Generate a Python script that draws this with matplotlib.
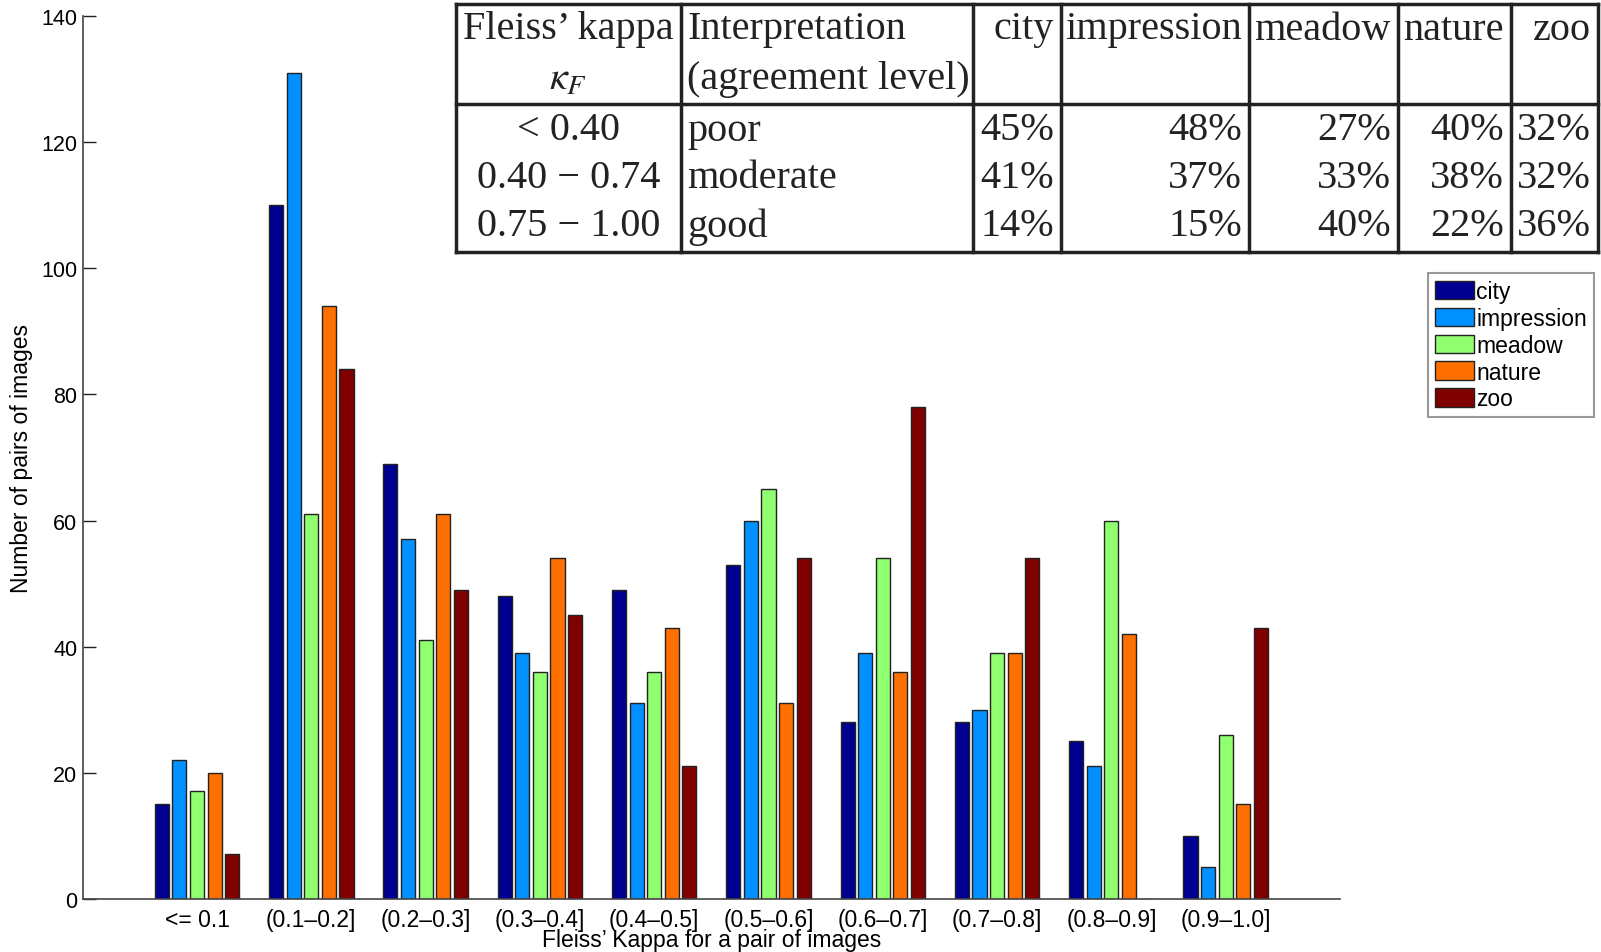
import matplotlib.pyplot as plt
import numpy as np
from matplotlib.lines import Line2D
from matplotlib.patches import Rectangle

bins = ['<= 0.1', '(0.1\u20130.2]', '(0.2\u20130.3]', '(0.3\u20130.4]', '(0.4\u20130.5]',
        '(0.5\u20130.6]', '(0.6\u20130.7]', '(0.7\u20130.8]', '(0.8\u20130.9]', '(0.9\u20131.0]']
series = ['city', 'impression', 'meadow', 'nature', 'zoo']
city = [15, 110, 69, 48, 49, 53, 28, 28, 25, 10]
impression = [22, 131, 57, 39, 31, 60, 39, 30, 21, 5]
meadow = [17, 61, 41, 36, 36, 65, 54, 39, 60, 26]
nature = [20, 94, 61, 54, 43, 31, 36, 39, 42, 15]
zoo = [7, 84, 49, 45, 21, 54, 78, 54, 0, 43]
colors = ['#000090', '#0090ff', '#90ff70', '#ff7000', '#800000']

# overlay table
tab_header1 = ["Fleiss\u2019 kappa", 'Interpretation', 'city', 'impression', 'meadow', 'nature', 'zoo']
tab_header2 = [r'$\kappa_F$', '(agreement level)', '', '', '', '', '']
tab_ranges = ['< 0.40', '0.40 \u2212 0.74', '0.75 \u2212 1.00']
tab_levels = ['poor', 'moderate', 'good']
tab_pct = {
    'city': ['45%', '41%', '14%'],
    'impression': ['48%', '37%', '15%'],
    'meadow': ['27%', '33%', '40%'],
    'nature': ['40%', '38%', '22%'],
    'zoo': ['32%', '32%', '36%'],
}

W, H = 1601, 953
plt.rcParams['mathtext.fontset'] = 'stix'
fig = plt.figure(figsize=(W / 100, H / 100), dpi=100)
ax = fig.add_axes([82.7 / W, 1 - 899.6 / H, (1340 - 82.7) / W, (899.6 - 17.4) / H])

x = np.arange(1, len(bins) + 1)
step = 0.154
width = 0.123
data = [city, impression, meadow, nature, zoo]
for i, (name, vals) in enumerate(zip(series, data)):
    ax.bar(x + (i - 2) * step, vals, width, color=colors[i], edgecolor='#222222',
           linewidth=1.0, label=name)

ax.set_xlim(0, 11)
ax.set_ylim(0, 140)
ax.set_yticks(np.arange(0, 141, 20))
ax.set_xticks(x)
ax.set_xticklabels(bins, fontsize=16.5, family='Liberation Sans')
for lab in ax.get_yticklabels():
    lab.set_fontsize(15.5)
    lab.set_family('Liberation Sans')
ax.tick_params(axis='y', direction='in', length=9, width=1, pad=4, colors='#222222',
               labelcolor='black')
ax.tick_params(axis='x', length=0, pad=6.5)
ax.spines['top'].set_visible(False)
ax.spines['right'].set_visible(False)
for s in ['left', 'bottom']:
    ax.spines[s].set_color('#444444')
    ax.spines[s].set_linewidth(1.2)
ax.set_xlabel('Fleiss\u2019 Kappa for a pair of images', fontsize=16.5,
              family='Liberation Sans', labelpad=-2)
ax.set_ylabel('Number of pairs of images', fontsize=16.5, family='Liberation Sans',
              labelpad=6)

leg = fig.legend(loc='upper left', bbox_to_anchor=(1428 / W, 1 - 274 / H),
                 prop={'family': 'Liberation Sans', 'size': 16.5},
                 handlelength=1.7, handleheight=0.85, handletextpad=0.1,
                 labelspacing=0.17, borderpad=0.3, borderaxespad=0,
                 fancybox=False, edgecolor='#999999', framealpha=1)
leg.get_frame().set_linewidth(1.5)


def fx(px):
    return px / W


def fy(py):
    return 1 - py / H


# table grid
cols = [456, 681, 973, 1061, 1249, 1398, 1511, 1598]
rows = [5, 105, 253]
fig.add_artist(Rectangle((fx(cols[0]), fy(rows[-1])), fx(cols[-1]) - fx(cols[0]),
                         fy(rows[0]) - fy(rows[-1]), transform=fig.transFigure,
                         facecolor='white', edgecolor='none', zorder=1))
for r in rows:
    fig.add_artist(Line2D([fx(cols[0]), fx(cols[-1])], [fy(r), fy(r)],
                          transform=fig.transFigure, color='#222222', lw=2.5, zorder=2))
for c in cols:
    fig.add_artist(Line2D([fx(c), fx(c)], [fy(rows[0]), fy(rows[-1])],
                          transform=fig.transFigure, color='#222222', lw=2.5, zorder=2))

serif = dict(family='Liberation Serif', fontsize=29, color='#222222', va='center', zorder=3)
row_y = [30, 80]
data_y = [131, 179, 227]
col0_c = (cols[0] + cols[1]) / 2
col1_l = cols[1] + 6
fig.text(fx(col0_c), fy(row_y[0]), tab_header1[0], ha='center', **serif)
fig.text(fx(col0_c), fy(row_y[1]), tab_header2[0], ha='center', **serif)
fig.text(fx(col1_l), fy(row_y[0]), tab_header1[1], ha='left', **serif)
fig.text(fx(col1_l), fy(row_y[1]), tab_header2[1], ha='left', **serif)
for j in range(3):
    fig.text(fx(col0_c), fy(data_y[j]), tab_ranges[j], ha='center', **serif)
    fig.text(fx(col1_l), fy(data_y[j]), tab_levels[j], ha='left', **serif)
for k, name in enumerate(series):
    right = cols[k + 3] - 7
    fig.text(fx(right), fy(row_y[0]), tab_header1[k + 2], ha='right', **serif)
    for j in range(3):
        fig.text(fx(right), fy(data_y[j]), tab_pct[name][j], ha='right', **serif)

fig.savefig('out.png', dpi=100)
